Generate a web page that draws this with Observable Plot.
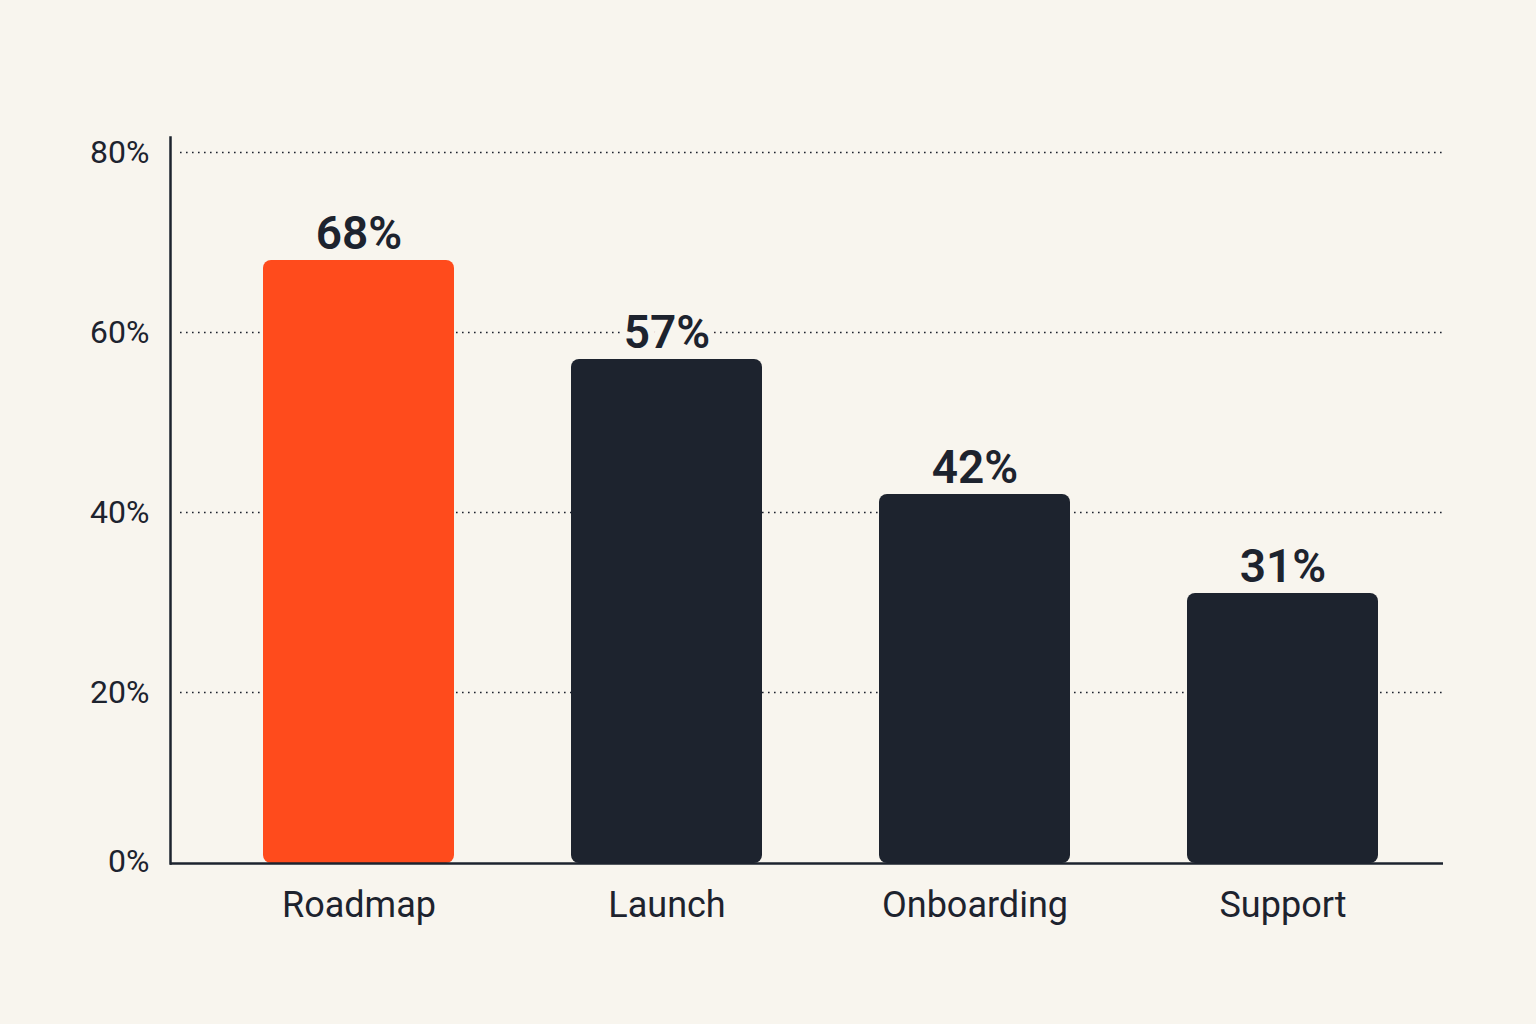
<!DOCTYPE html>
<html>
<head>
<meta charset="utf-8">
<script src="https://cdn.jsdelivr.net/npm/d3@7"></script>
<script src="https://cdn.jsdelivr.net/npm/@observablehq/plot@0.6"></script>
<style>
  html, body { margin: 0; padding: 0; background: #f8f5ee; }
  #chart svg { display: block; }
</style>
</head>
<body>
<div id="chart"></div>
<script>
const categories = ["Roadmap", "Launch", "Onboarding", "Support"];
const values = [68, 57, 42, 31];
const highlight = ["Roadmap"];
const yTicks = [0, 20, 40, 60, 80];

const data = categories.map((c, i) => ({category: c, value: values[i], hi: highlight.includes(c)}));

const bg = "#f8f5ee";
const ink = "#1d232e";
const base = 9; // baseline sits slightly above the zero of the value scale

const chart = Plot.plot({
  width: 1536,
  height: 1024,
  marginLeft: 170,
  marginRight: 90,
  marginTop: 152,
  marginBottom: 152,
  style: {background: bg, fontFamily: "Roboto, 'Noto Sans', sans-serif", color: ink},
  x: {domain: categories, paddingInner: 0.38, paddingOuter: 0.26, align: 0.575, label: null},
  y: {domain: [0, 80], label: null},
  marks: [
    Plot.ruleY(yTicks.filter(d => d > 0), {stroke: ink, strokeWidth: 1.6, strokeDasharray: "1.6,4.4", insetLeft: 10}),
    Plot.barY(data, {x: "category", y: "value", fill: d => d.hi ? "#ff4b1c" : ink, rx: 8, insetBottom: base}),
    Plot.text(data, {x: "category", y: "value", text: d => d.value + "%", lineAnchor: "bottom", dy: -12,
      fontSize: 46, fontWeight: 600, fill: ink, stroke: bg, strokeWidth: 14, letterSpacing: 1}),
    Plot.ruleY([0], {stroke: ink, strokeWidth: 2.5, insetRight: 3, dy: -base}),
    Plot.frame({anchor: "left", stroke: ink, strokeWidth: 2.5, insetTop: -15, insetBottom: base}),
    Plot.axisY({ticks: yTicks.filter(d => d > 0), tickFormat: d => d + "%", tickSize: 0, tickPadding: 21, fontSize: 32, fill: ink}),
    Plot.axisY({ticks: [0], tickFormat: d => d + "%", tickSize: 0, tickPadding: 21, fontSize: 32, fill: ink, dy: -base - 2}),
    Plot.axisX({tickSize: 0, tickPadding: 19, fontSize: 36, fill: ink})
  ]
});
document.getElementById("chart").append(chart);
</script>
</body>
</html>
